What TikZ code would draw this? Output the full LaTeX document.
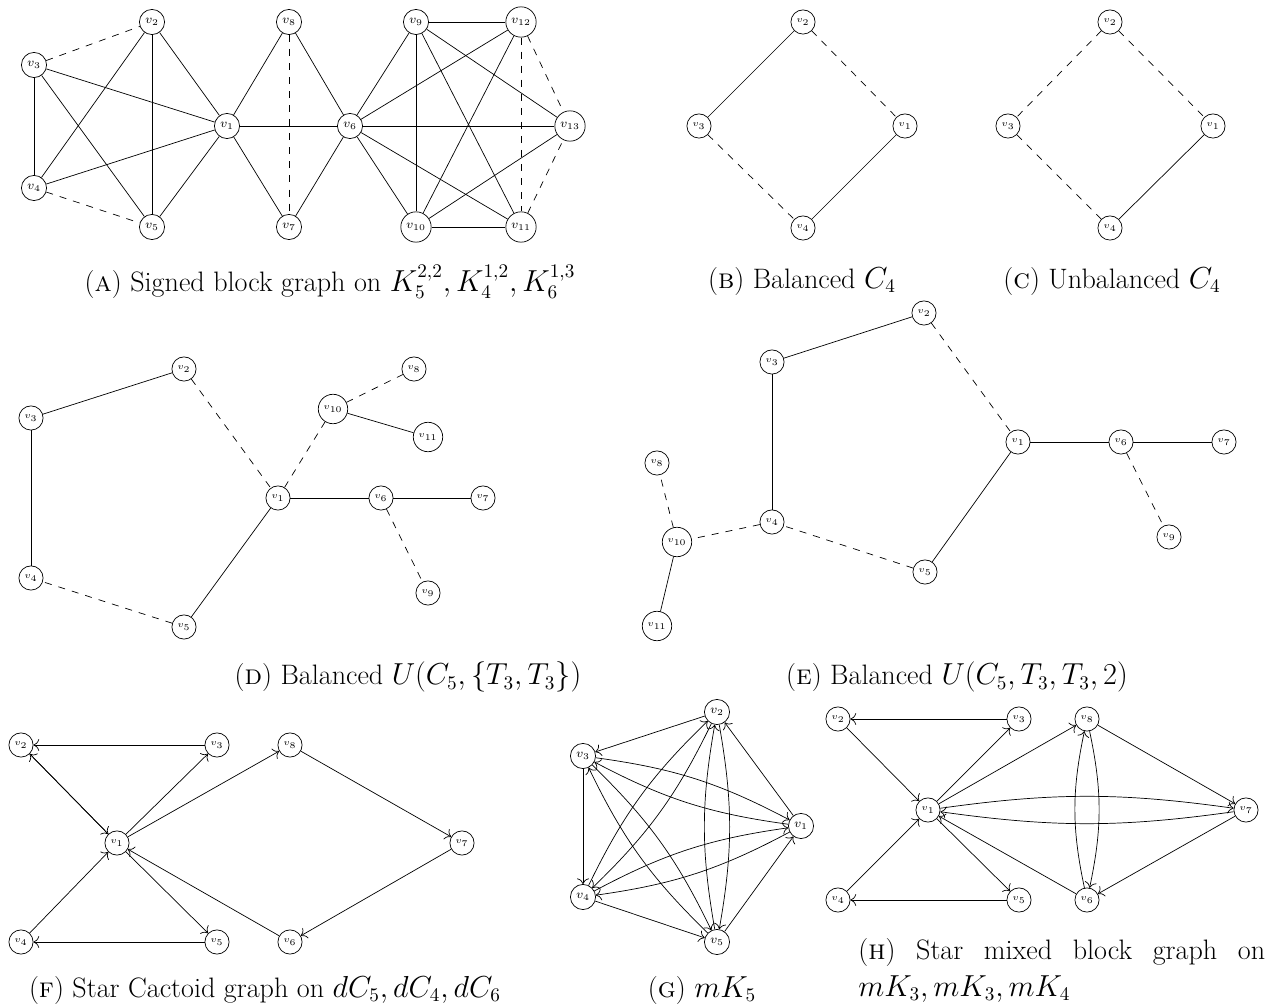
\documentclass[tikz,border=0pt]{standalone}
\usepackage{amsmath}
\usepackage{amssymb}
\usepackage{tikz}
\usetikzlibrary{arrows.meta}

\begin{document}
\begin{tikzpicture}[x=0.02cm, y=-0.02cm,
  vtx/.style={draw, circle, inner sep=2pt, font=\tiny},
  bigvtx/.style={vtx, font=\scriptsize},
  neg/.style={dash pattern=on 4pt off 4pt},
  darc/.style={-{Computer Modern Rightarrow[scale=1.3]}},
  subcap/.style={font=\fontsize{16}{21}\selectfont}
]
\useasboundingbox (0,0) rectangle (1269,1006);

\node[bigvtx] (a1) at (227,126) {$v_1$};
\node[bigvtx] (a2) at (152,22) {$v_2$};
\node[bigvtx] (a3) at (34,65) {$v_3$};
\node[bigvtx] (a4) at (34,188) {$v_4$};
\node[bigvtx] (a5) at (152,227) {$v_5$};
\node[bigvtx] (a6) at (350,126) {$v_6$};
\node[bigvtx] (a7) at (289,227) {$v_7$};
\node[bigvtx] (a8) at (289,22) {$v_8$};
\node[bigvtx] (a9) at (416,22) {$v_9$};
\node[bigvtx] (a10) at (416,227) {$v_{10}$};
\node[bigvtx] (a11) at (521,227) {$v_{11}$};
\node[bigvtx] (a12) at (521,22) {$v_{12}$};
\node[bigvtx] (a13) at (570,126) {$v_{13}$};
\draw[neg] (a3) -- (a2); \draw[neg] (a4) -- (a5); \draw (a3) -- (a4); \draw (a2) -- (a5); \draw (a2) -- (a4); \draw (a3) -- (a5);
\draw (a1) -- (a2); \draw (a1) -- (a3); \draw (a1) -- (a4); \draw (a1) -- (a5);
\draw (a1) -- (a8); \draw (a1) -- (a7); \draw (a1) -- (a6); \draw (a8) -- (a6); \draw (a7) -- (a6); \draw[neg] (a8) -- (a7);
\draw (a6) -- (a9); \draw (a6) -- (a10); \draw (a6) -- (a11); \draw (a6) -- (a12); \draw (a6) -- (a13);
\draw (a9) -- (a12); \draw (a9) -- (a10); \draw (a9) -- (a11); \draw (a9) -- (a13);
\draw (a10) -- (a11); \draw (a10) -- (a12); \draw (a10) -- (a13);
\draw[neg] (a12) -- (a11); \draw[neg] (a12) -- (a13); \draw[neg] (a11) -- (a13);
\node[subcap] (capa) at (330,282) {(\textsc{a}) Signed block graph on $K_5^{2,2}, K_4^{1,2}, K_6^{1,3}$};

\node[vtx] (b1) at (905,126) {$v_1$};
\node[vtx] (b2) at (803,22) {$v_2$};
\node[vtx] (b3) at (699,126) {$v_3$};
\node[vtx] (b4) at (803,228) {$v_4$};
\draw (b2) -- (b3); \draw[neg] (b2) -- (b1); \draw[neg] (b3) -- (b4); \draw (b4) -- (b1);
\node[subcap] (capb) at (802,281) {(\textsc{b}) Balanced $C_4$};

\node[vtx] (c1) at (1213,126) {$v_1$};
\node[vtx] (c2) at (1110,22) {$v_2$};
\node[vtx] (c3) at (1008,126) {$v_3$};
\node[vtx] (c4) at (1110,228) {$v_4$};
\draw[neg] (c2) -- (c3); \draw[neg] (c2) -- (c1); \draw[neg] (c3) -- (c4); \draw (c4) -- (c1);
\node[subcap] (capc) at (1112,281) {(\textsc{c}) Unbalanced $C_4$};

\node[vtx] (d1) at (278,498) {$v_1$};
\node[vtx] (d2) at (184,369) {$v_2$};
\node[vtx] (d3) at (31,418) {$v_3$};
\node[vtx] (d4) at (31,578) {$v_4$};
\node[vtx] (d5) at (184,627) {$v_5$};
\node[vtx] (d6) at (381,498) {$v_6$};
\node[vtx] (d7) at (483,498) {$v_7$};
\node[vtx] (d8) at (414,369) {$v_8$};
\node[vtx] (d9) at (428,593) {$v_9$};
\node[vtx] (d10) at (333,409) {$v_{10}$};
\node[vtx] (d11) at (428,437) {$v_{11}$};
\draw (d3) -- (d2); \draw[neg] (d2) -- (d1); \draw (d1) -- (d5); \draw[neg] (d5) -- (d4); \draw (d4) -- (d3);
\draw (d1) -- (d6); \draw (d6) -- (d7); \draw[neg] (d6) -- (d9); \draw[neg] (d1) -- (d10); \draw[neg] (d10) -- (d8); \draw (d10) -- (d11);
\node[subcap] (capd) at (408,677) {(\textsc{d}) Balanced $U(C_5,\{T_3,T_3\})$};

\node[vtx] (e1) at (1018,442) {$v_1$};
\node[vtx] (e2) at (924,313) {$v_2$};
\node[vtx] (e3) at (772,362) {$v_3$};
\node[vtx] (e4) at (772,522) {$v_4$};
\node[vtx] (e5) at (925,572) {$v_5$};
\node[vtx] (e6) at (1121,442) {$v_6$};
\node[vtx] (e7) at (1224,442) {$v_7$};
\node[vtx] (e8) at (657,463) {$v_8$};
\node[vtx] (e9) at (1169,537) {$v_9$};
\node[vtx] (e10) at (677,542) {$v_{10}$};
\node[vtx] (e11) at (657,626) {$v_{11}$};
\draw (e3) -- (e2); \draw[neg] (e2) -- (e1); \draw (e1) -- (e5); \draw[neg] (e5) -- (e4); \draw (e4) -- (e3);
\draw (e1) -- (e6); \draw (e6) -- (e7); \draw[neg] (e6) -- (e9); \draw[neg] (e4) -- (e10); \draw[neg] (e10) -- (e8); \draw (e10) -- (e11);
\node[subcap] (cape) at (957,677) {(\textsc{e}) Balanced $U(C_5,T_3,T_3,2)$};

\node[vtx] (f1) at (117,843) {$v_1$};
\node[vtx] (f2) at (21,745) {$v_2$};
\node[vtx] (f3) at (217,745) {$v_3$};
\node[vtx] (f4) at (21,942) {$v_4$};
\node[vtx] (f5) at (217,942) {$v_5$};
\node[vtx] (f6) at (290,942) {$v_6$};
\node[vtx] (f7) at (462,843) {$v_7$};
\node[vtx] (f8) at (290,745) {$v_8$};
\draw[darc] (f3) -- (f2); \draw[darc] (f2) -- (f1); \draw[darc] (f1) -- (f2); \draw[darc] (f1) -- (f3);
\draw[darc] (f1) -- (f5); \draw[darc] (f5) -- (f4); \draw[darc] (f4) -- (f1);
\draw[darc] (f1) -- (f8); \draw[darc] (f8) -- (f7); \draw[darc] (f7) -- (f6); \draw[darc] (f6) -- (f1);
\node[subcap] (capf) at (265,990) {(\textsc{f}) Star Cactoid graph on $dC_5, dC_4, dC_6$};

\node[bigvtx] (g1) at (801,826) {$v_1$};
\node[bigvtx] (g2) at (717,712) {$v_2$};
\node[bigvtx] (g3) at (583,756) {$v_3$};
\node[bigvtx] (g4) at (583,897) {$v_4$};
\node[bigvtx] (g5) at (717,942) {$v_5$};
\draw[darc] (g1) -- (g2); \draw[darc] (g2) -- (g3); \draw[darc] (g3) -- (g4); \draw[darc] (g4) -- (g5); \draw[darc] (g5) -- (g1);
\draw[darc] (g1) to[bend left=10] (g3); \draw[darc] (g3) to[bend left=10] (g1);
\draw[darc] (g1) to[bend left=10] (g4); \draw[darc] (g4) to[bend left=10] (g1);
\draw[darc] (g2) to[bend left=10] (g4); \draw[darc] (g4) to[bend left=10] (g2);
\draw[darc] (g2) to[bend left=10] (g5); \draw[darc] (g5) to[bend left=10] (g2);
\draw[darc] (g3) to[bend left=10] (g5); \draw[darc] (g5) to[bend left=10] (g3);
\node[subcap] (capg) at (702,990) {(\textsc{g}) $mK_5$};

\node[vtx] (h1) at (928,810) {$v_1$};
\node[vtx] (h2) at (838,719) {$v_2$};
\node[vtx] (h3) at (1019,719) {$v_3$};
\node[vtx] (h4) at (838,900) {$v_4$};
\node[vtx] (h5) at (1019,900) {$v_5$};
\node[vtx] (h6) at (1087,900) {$v_6$};
\node[vtx] (h7) at (1246,810) {$v_7$};
\node[vtx] (h8) at (1087,719) {$v_8$};
\draw[darc] (h3) -- (h2); \draw[darc] (h2) -- (h1); \draw[darc] (h1) -- (h3);
\draw[darc] (h1) -- (h5); \draw[darc] (h5) -- (h4); \draw[darc] (h4) -- (h1);
\draw[darc] (h1) -- (h8); \draw[darc] (h8) -- (h7); \draw[darc] (h7) -- (h6); \draw[darc] (h6) -- (h1);
\draw[darc] (h8) to[bend left=12] (h6); \draw[darc] (h6) to[bend left=12] (h8);
\draw[darc] (h1) to[bend left=8] (h7); \draw[darc] (h7) to[bend left=8] (h1);
\node[subcap, anchor=north west, text width=8.14cm, align=left, inner sep=0pt] (caph) at (858,938)
  {\makebox[8.14cm][l]{(\textsc{h})\hfill Star\hfill mixed\hfill block\hfill graph\hfill on}\\ $mK_3, mK_3, mK_4$};
\end{tikzpicture}
\end{document}
